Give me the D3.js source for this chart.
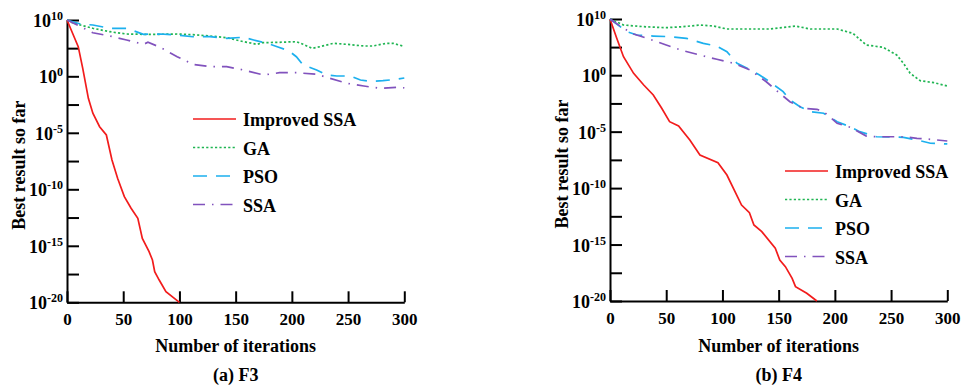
<!DOCTYPE html>
<html>
<head>
<meta charset="utf-8">
<script src="https://cdn.jsdelivr.net/npm/d3@7"></script>
</head>
<body style="margin:0; background:#fff">
<script>
// tick values (y values are log10 exponents)
const iterTicks = [0, 50, 100, 150, 200, 250, 300];
const expTicks = [10, 5, 0, -2.5, -5, -7.5, -10, -12.5, -15, -17.5, -20];
const expLabels = [10, 0, -5, -10, -15, -20];
const seriesNames = ["Improved SSA", "GA", "PSO", "SSA"];

// F3 : [iteration, log10(best)]
const f3Improved = [[0,10],[10,5.26],[14,1.42],[19,-1.95],[23,-3.27],[29,-4.46],[35,-5.19],[40,-7.41],[45,-9.03],[51,-10.65],[57,-11.68],[63,-12.57],[67,-14.34],[73,-15.52],[76,-16.26],[78,-17.29],[82,-18.03],[88,-19.06],[100,-20]];
const f3GA = [[0,10],[6,9.41],[23,8.53],[38,7.92],[53,7.51],[68,7.46],[83,7.46],[98,7.51],[112,7.39],[127,7.16],[142,6.86],[157,6.15],[169,5.68],[174,5.97],[189,6.04],[204,6.15],[210,5.68],[218,4.97],[225,5.26],[237,5.86],[249,5.68],[264,5.38],[272,5.38],[284,5.86],[290,5.86],[300,5.3]];
const f3PSO = [[0,10],[12,9.29],[23,9.11],[38,8.53],[53,8.53],[68,7.46],[83,7.51],[98,7.34],[112,7.03],[127,7.03],[142,6.75],[157,6.93],[166,6.45],[178,5.86],[187,5.26],[197,4.55],[204,3.48],[210,2.01],[222,1.12],[231,0.23],[240,0.05],[252,0.05],[261,-0.33],[270,-0.44],[281,-0.39],[293,-0.27],[300,-0.15]];
const f3SSA = [[0,10],[12,8.81],[23,7.74],[38,7.16],[53,6.45],[68,5.68],[72,6.04],[83,5.15],[98,3.48],[112,2.13],[127,1.71],[142,1.71],[154,1.24],[175,0.23],[189,0.64],[204,0.64],[222,0.36],[234,-0.18],[249,-0.62],[264,-0.86],[278,-1.06],[296,-0.97],[300,-1.03]];

// F4
const f4Improved = [[0,10],[6,6.56],[12,3.29],[21,0.33],[30,-0.87],[38.5,-1.75],[46,-2.93],[53,-4.12],[61,-4.5],[71,-5.74],[80,-7.07],[96,-7.75],[104,-8.84],[117,-11.5],[124,-12.18],[128,-13.27],[135,-13.86],[147,-15.33],[151,-16.37],[156,-16.96],[162,-17.99],[165,-18.73],[175,-19.32],[184,-20]];
const f4GA = [[0,10],[12,8.93],[30,8.63],[50,8.45],[65,8.63],[80,8.93],[92,8.75],[104,8.22],[125,8.22],[142,8.22],[165,8.75],[178,8.22],[202,8.22],[216,7.45],[228,5.37],[243,4.96],[255,3.59],[261,2.11],[267,0.33],[276,-0.49],[288,-0.66],[300,-0.96]];
const f4PSO = [[0,10],[15,7.74],[24,7.15],[38.5,6.97],[53,6.85],[68,6.56],[83,5.67],[95,5.19],[104,4.18],[113,2.11],[122,1.22],[133,0.04],[142,-0.58],[154,-1.46],[160,-2.19],[169,-2.79],[178,-3.23],[190,-3.37],[202,-4.12],[213.5,-4.56],[222,-5],[237,-5.45],[261,-5.5],[273,-5.74],[285,-6.03],[300,-6.09]];
const f4SSA = [[0,10],[12,8.34],[21,7.33],[33,6.57],[50,5.37],[65,4.36],[80,3.59],[95,2.83],[110,2.12],[124.5,0.93],[139,-0.58],[151,-1.6],[160,-2.35],[172,-2.93],[184,-3.02],[190,-3.23],[202,-4.26],[213.5,-4.61],[228,-5.39],[237,-5.45],[261,-5.45],[273,-5.59],[285,-5.68],[300,-5.83]];

const FONT = "'Liberation Serif', 'Times New Roman', serif";

const styles = [
  {color: "#f21c1c", dash: null},
  {color: "#1fb552", dash: "2.2,2.2"},
  {color: "#1cb0ee", dash: "14,9"},
  {color: "#8152bd", dash: "12,7,1.5,7"}
];

const svg = d3.select("body").append("svg")
  .attr("width", 965)
  .attr("height", 387);

const panels = [
  {caption: "(a) F3", series: [f3Improved, f3GA, f3PSO, f3SSA],
   x0: 67, x1: 404.3, yTop: 20, yMid: 76.3, yBot: 302.3, ylabX: 18.5, legX: 193, legY: 119},
  {caption: "(b) F4", series: [f4Improved, f4GA, f4PSO, f4SSA],
   x0: 610, x1: 947.3, yTop: 19, yMid: 75.2, yBot: 301, ylabX: 562, legX: 785, legY: 171}
];

function label(sel, size) {
  return sel.style("font-family", FONT).style("font-weight", "bold")
    .style("font-size", size + "px").attr("fill", "#000");
}

panels.forEach(p => {
  const x = d3.scaleLinear().domain([0, 300]).range([p.x0, p.x1]);
  const y = d3.scaleLinear().domain([-20, 0, 10]).range([p.yBot, p.yMid, p.yTop]);

  const g = svg.append("g");

  // x axis
  const xa = g.append("g")
    .attr("transform", "translate(0," + p.yBot + ")")
    .call(d3.axisBottom(x).tickValues(iterTicks).tickSizeInner(-11).tickSizeOuter(0).tickPadding(11));
  label(xa.selectAll("text"), 17);

  // y axis
  g.append("g")
    .attr("transform", "translate(" + p.x0 + ",0)")
    .call(d3.axisLeft(y).tickValues(expTicks).tickSizeInner(-12).tickSizeOuter(0).tickFormat(""));

  g.selectAll(".domain, .tick line").attr("stroke", "#000").attr("stroke-width", 2);

  // y labels 10^n
  const lab = label(g.append("g").selectAll("text")
    .data(expLabels)
    .enter().append("text")
    .attr("x", p.x0 - 4)
    .attr("y", d => y(d) + 7)
    .attr("text-anchor", "end"), 18);
  lab.append("tspan").text("10");
  lab.append("tspan").style("font-size", "12px").attr("dy", -7).text(d => d < 0 ? "-" + (-d) : d);

  // lines
  const line = d3.line().x(d => x(d[0])).y(d => y(d[1]));
  p.series.forEach((s, i) => {
    g.append("path")
      .datum(s)
      .attr("d", line)
      .attr("fill", "none")
      .attr("stroke", styles[i].color)
      .attr("stroke-width", 1.7)
      .attr("stroke-dasharray", styles[i].dash);
  });

  // legend
  seriesNames.forEach((name, i) => {
    const ly = p.legY + i * 28.5;
    g.append("line")
      .attr("x1", p.legX).attr("x2", p.legX + 43)
      .attr("y1", ly).attr("y2", ly)
      .attr("stroke", styles[i].color)
      .attr("stroke-width", 1.7)
      .attr("stroke-dasharray", styles[i].dash);
    label(g.append("text")
      .attr("x", p.legX + 50)
      .attr("y", ly + 1)
      .attr("dy", "0.35em"), 18)
      .text(name);
  });

  // axis titles
  label(g.append("text")
    .attr("x", (p.x0 + p.x1) / 2)
    .attr("y", 346)
    .attr("dy", "0.35em")
    .attr("text-anchor", "middle"), 18)
    .text("Number of iterations");

  label(g.append("text")
    .attr("transform", "translate(" + p.ylabX + "," + ((p.yTop + p.yBot) / 2 + 4) + ") rotate(-90)")
    .attr("dy", "0.35em")
    .attr("text-anchor", "middle"), 18)
    .text("Best result so far");

  label(g.append("text")
    .attr("x", (p.x0 + p.x1) / 2)
    .attr("y", 375)
    .attr("dy", "0.35em")
    .attr("text-anchor", "middle"), 18)
    .text(p.caption);
});
</script>
</body>
</html>
